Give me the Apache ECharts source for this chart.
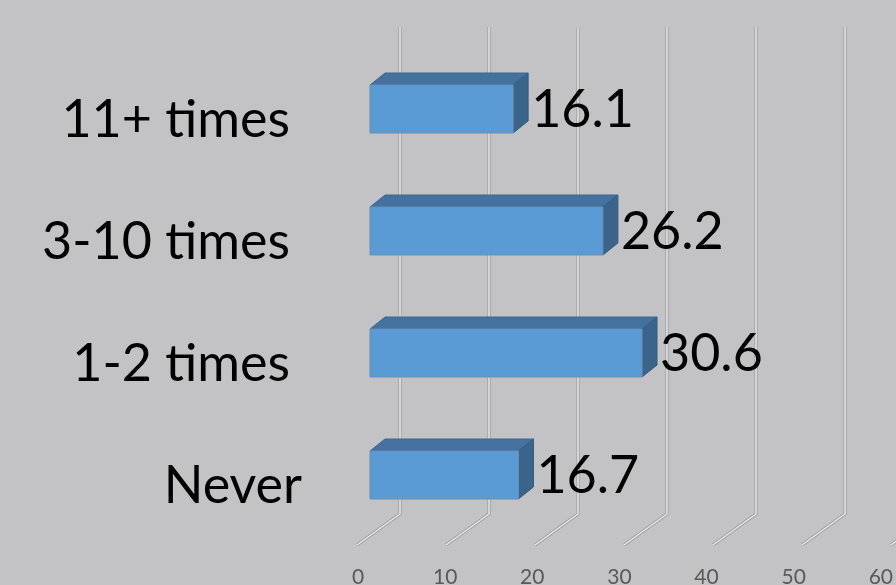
<!DOCTYPE html>
<html>
<head>
<meta charset="utf-8">
<script src="https://cdn.jsdelivr.net/npm/echarts@6/dist/echarts.min.js"></script>
<style>
html,body{margin:0;padding:0;background:#c3c3c5;}
#chart{width:896px;height:585px;}
</style>
</head>
<body>
<div id="chart"></div>
<script>
const categories = ['11+ times', '3-10 times', '1-2 times', 'Never'];
const values = [16.1, 26.2, 30.6, 16.7];
const ticks = [0, 10, 20, 30, 40, 50, 60];

const FONT = 'Lato';
const chart = echarts.init(document.getElementById('chart'));

const DX = 15, DY = -12, BAR_H = 48;

function renderBar(params, api) {
  const v = api.value(0);
  const c = api.value(1);
  const p0 = api.coord([0, c]);
  const p1 = api.coord([v, c]);
  const x0 = p0[0], x1 = p1[0], yc = p0[1];
  const yt = yc - BAR_H / 2, yb = yc + BAR_H / 2;
  return {
    type: 'group',
    children: [
      { type: 'polygon', shape: { points: [[x0, yt], [x0 + DX, yt + DY], [x1 + DX, yt + DY], [x1, yt]] },
        style: { fill: '#44719f', stroke: '#3d6892', lineWidth: 1 } },
      { type: 'polygon', shape: { points: [[x1, yt], [x1 + DX, yt + DY], [x1 + DX, yb + DY], [x1, yb]] },
        style: { fill: '#3a6489', stroke: '#365e83', lineWidth: 1 } },
      { type: 'rect', shape: { x: x0, y: yt, width: x1 - x0, height: BAR_H },
        style: { fill: '#5b9bd5', stroke: '#6d8fb0', lineWidth: 1 } },
      { type: 'text', style: { text: String(v), x: x1 + DX + 3, y: yc + 1, fill: '#000', font: '52px ' + FONT, verticalAlign: 'middle', align: 'left' } }
    ]
  };
}

function renderGridLine(params, api) {
  const t = api.value(0);
  const top = api.coord([t, 1]);
  const bot = api.coord([t, 0]);
  const pts = [[top[0], top[1]], [bot[0], bot[1]], [bot[0] - 43, bot[1] + 31]];
  return {
    type: 'group',
    children: [
      { type: 'polyline', shape: { points: pts }, style: { stroke: '#9d9d9f', lineWidth: 3.2, fill: null } },
      { type: 'polyline', shape: { points: pts }, style: { stroke: '#ebebeb', lineWidth: 1.4, fill: null } }
    ]
  };
}

chart.setOption({
  backgroundColor: '#c3c3c5',
  animation: false,
  textStyle: { fontFamily: FONT },
  grid: [
    { left: 370, width: 444.5, top: 48, height: 488 },          // bars (0..50)
    { left: 400, width: 445, top: 27, height: 487 },            // back wall gridlines (0..50)
    { left: 358, width: 531.6, top: 550, height: 10 },          // front tick labels (0..60)
    { left: 370, width: 444.5, top: 59, height: 488 }           // category labels
  ],
  xAxis: [
    { gridIndex: 0, type: 'value', min: 0, max: 50, interval: 10, show: false },
    { gridIndex: 1, type: 'value', min: 0, max: 50, interval: 10, show: false },
    { gridIndex: 2, type: 'value', min: 0, max: 60, interval: 10,
      axisLine: { show: false }, axisTick: { show: false }, splitLine: { show: false },
      axisLabel: { show: true, margin: 14, color: '#595959', fontSize: 21, fontFamily: FONT, showMaxLabel: true } },
    { gridIndex: 3, type: 'value', min: 0, max: 50, show: false }
  ],
  yAxis: [
    { gridIndex: 0, type: 'category', data: categories, inverse: true, show: false },
    { gridIndex: 1, type: 'value', min: 0, max: 1, show: false },
    { gridIndex: 2, type: 'value', min: 0, max: 1, show: false },
    { gridIndex: 3, type: 'category', inverse: true,
      data: categories.map(c => c === 'Never' ? { value: c, textStyle: { padding: [0, -12, 0, 0] } } : c),
      axisLine: { show: false }, axisTick: { show: false }, splitLine: { show: false },
      axisLabel: { margin: 80, color: '#000', fontSize: 52, fontFamily: FONT } }
  ],
  series: [
    { type: 'custom', xAxisIndex: 1, yAxisIndex: 1, z: 1, renderItem: renderGridLine, clip: false,
      data: ticks.map(t => [t]), silent: true },
    { type: 'custom', xAxisIndex: 0, yAxisIndex: 0, z: 5, renderItem: renderBar, clip: false,
      data: values.map((v, i) => [v, i]), silent: true }
  ]
});
</script>
</body>
</html>
